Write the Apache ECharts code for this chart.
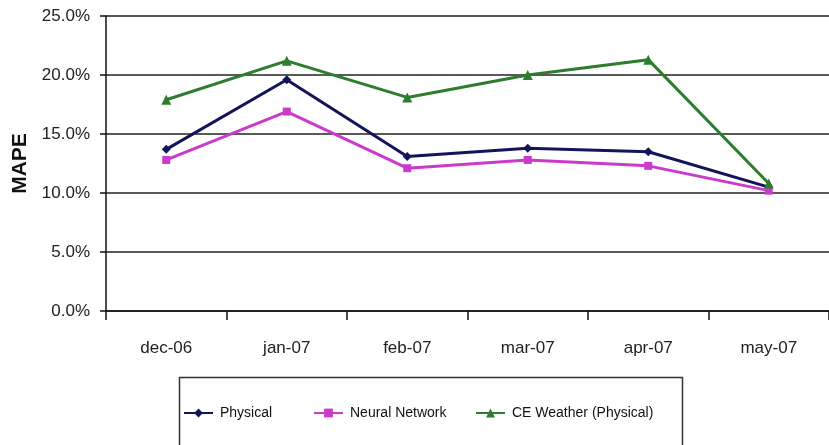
<!DOCTYPE html>
<html>
<head>
<meta charset="utf-8">
<script src="https://cdn.jsdelivr.net/npm/echarts@6/dist/echarts.min.js"></script>
<style>
  html, body { margin: 0; padding: 0; background: #ffffff; }
  #chart { width: 829px; height: 445px; }
</style>
</head>
<body>
<div id="chart"></div>
<script>
// Monthly forecast error (MAPE, %) for three models
const months = ['dec-06', 'jan-07', 'feb-07', 'mar-07', 'apr-07', 'may-07'];
const physical = [13.7, 19.6, 13.1, 13.8, 13.5, 10.5];
const neuralNetwork = [12.8, 16.9, 12.1, 12.8, 12.3, 10.2];
const ceWeather = [17.9, 21.2, 18.1, 20.0, 21.3, 10.8];
const yTicks = { min: 0, max: 25, step: 5 };

const sans = "'Liberation Sans', Arial, sans-serif";

const chart = echarts.init(document.getElementById('chart'), null, { renderer: 'canvas' });

function lineSeries(name, data, color, symbol, size) {
  return {
    name: name,
    type: 'line',
    data: data,
    symbol: symbol,
    symbolSize: size,
    showSymbol: true,
    itemStyle: { color: color },
    lineStyle: { color: color, width: 3 },
    emphasis: { disabled: true },
    animation: false
  };
}

function legendAt(left, name) {
  return {
    left: left,
    top: 406,
    orient: 'horizontal',
    itemWidth: 29,
    itemHeight: 11,
    itemGap: 0,
    padding: 0,
    data: [name],
    textStyle: { fontFamily: sans, fontSize: 14, color: '#111', padding: [0, 0, 0, 2] },
    selectedMode: false
  };
}

chart.setOption({
  backgroundColor: '#ffffff',
  animation: false,
  grid: { left: 106, top: 16, width: 732, height: 295, containLabel: false },
  legend: [
    legendAt(183, 'Physical'),
    legendAt(313, 'Neural Network'),
    legendAt(475, 'CE Weather (Physical)')
  ],
  xAxis: {
    type: 'category',
    data: months,
    boundaryGap: true,
    axisLine: { lineStyle: { color: '#111', width: 1.5 } },
    axisTick: { show: true, length: 9, lineStyle: { color: '#111', width: 1.5 } },
    axisLabel: { fontFamily: sans, fontSize: 17, color: '#222', margin: 29 },
    splitLine: { show: false }
  },
  yAxis: {
    type: 'value',
    min: yTicks.min,
    max: yTicks.max,
    interval: yTicks.step,
    name: 'MAPE',
    nameLocation: 'middle',
    nameRotate: 90,
    nameGap: 74,
    nameTextStyle: { fontFamily: sans, fontWeight: 'bold', fontSize: 21, color: '#111' },
    axisLine: { show: true, lineStyle: { color: '#111', width: 1.5 } },
    axisTick: { show: true, length: 6, lineStyle: { color: '#111', width: 1.5 } },
    axisLabel: {
      fontFamily: sans, fontSize: 17, color: '#222', margin: 16,
      formatter: function (v) { return v.toFixed(1) + '%'; }
    },
    splitLine: { show: true, lineStyle: { color: '#222', width: 1.5 } }
  },
  series: [
    lineSeries('Physical', physical, '#14145a', 'diamond', 9),
    lineSeries('Neural Network', neuralNetwork, '#cc3acc', 'rect', 8),
    lineSeries('CE Weather (Physical)', ceWeather, '#2e7d2e', 'triangle', 10)
  ],
  graphic: [
    {
      type: 'rect',
      left: 177,
      top: 375,
      shape: { width: 503, height: 100 },
      style: { fill: 'none', stroke: '#333', lineWidth: 1.5 },
      z: -1
    }
  ]
});
</script>
</body>
</html>
